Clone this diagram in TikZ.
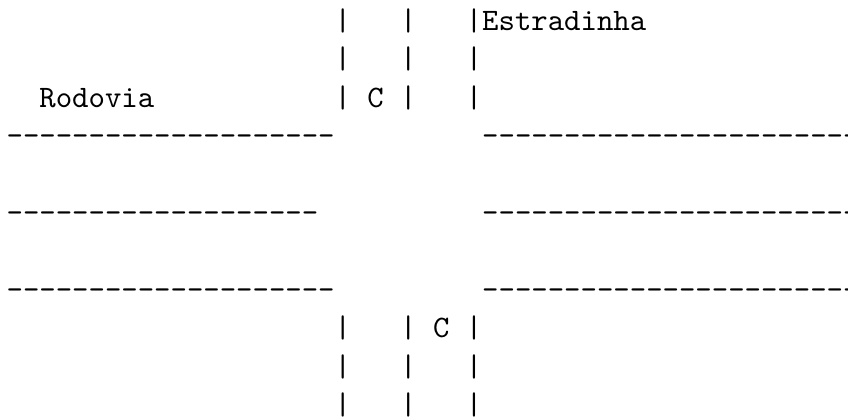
\documentclass[tikz,border=0pt]{standalone}
\usetikzlibrary{positioning}
\tikzset{
  ascii/.style={font=\ttfamily, inner sep=0pt, anchor=base west},
}
\newcommand{\dashrow}[1]{\foreach \k in {1,...,#1}{-\kern0pt}}

\begin{document}
\begin{tikzpicture}[x=5.25pt, y=-12.32pt]
\useasboundingbox (-0.366,0.22) rectangle (51.34,11.05);
\foreach \r in {1,2,3,9,10,11}
  \foreach \c in {20,24,28}
    \node[ascii] (bar-\r-\c) at (\c,\r) {|};
\node[ascii] (estradinha) at (29,1) {Estradinha};
\node[ascii] (rodovia) at (2,3) {Rodovia};
\node[ascii] (cNorte) at (22,3) {C};
\node[ascii] (cSul) at (26,9) {C};
\foreach \r/\n in {4/20,6/19,8/20}
  \node[ascii] (oeste-\r) at (0,\r) {\dashrow{\n}};
\foreach \r in {4,6,8}
  \node[ascii] (leste-\r) at (29,\r) {\dashrow{23}};
\end{tikzpicture}
\end{document}
